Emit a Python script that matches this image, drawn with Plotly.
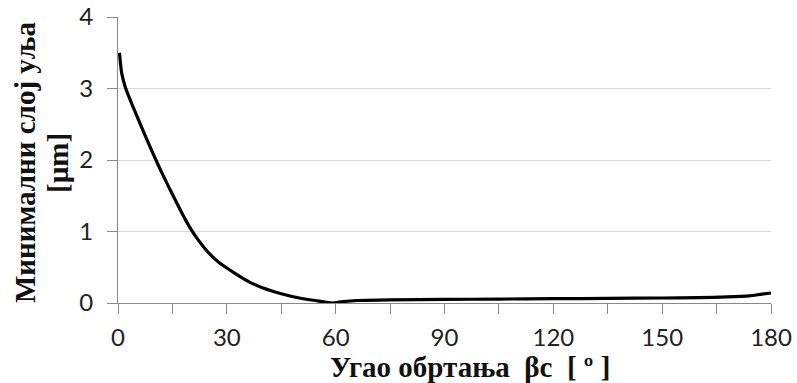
import plotly.graph_objects as go

angle = [0.4, 1, 2, 4, 6, 8, 10, 12, 14, 16, 18, 20, 22, 25, 28, 30, 33, 36, 40, 45, 50, 55, 59, 62, 66, 75, 90, 105, 120, 135, 150, 160, 168, 174, 177, 180]
film = [3.50, 3.22, 3.02, 2.76, 2.52, 2.28, 2.05, 1.83, 1.62, 1.42, 1.22, 1.04, 0.89, 0.70, 0.56, 0.49, 0.39, 0.30, 0.21, 0.13, 0.07, 0.03, 0.0, 0.02, 0.035, 0.045, 0.05, 0.055, 0.06, 0.065, 0.07, 0.075, 0.085, 0.10, 0.12, 0.14]

x_ticks = [0, 30, 60, 90, 120, 150, 180]
y_ticks = [0, 1, 2, 3, 4]

x_title = "<b>Угао обртања  βс  [ º ]</b>"
y_title_lines = ["<b>Минимални слој уља</b>", "<b>[µm]</b>"]

W, H = 797, 383
L, R, T, B = 118, 26, 17, 80
pw, ph = W - L - R, H - T - B

def px(x):
    return (x - L) / pw

def py(y):
    return (H - B - y) / ph

fig = go.Figure()
fig.add_trace(go.Scatter(x=angle, y=film, mode="lines",
                         line=dict(color="black", width=3.2, shape="spline", smoothing=0.6),
                         showlegend=False, cliponaxis=False))

tickfont = dict(family="Lato, Open Sans, sans-serif", size=24, color="#222")
titlefont = dict(family="Liberation Serif, DejaVu Serif, serif", size=29, color="#111", weight="bold")

annotations = [dict(text=x_title, xref="paper", yref="paper",
                    x=px(470), y=py(367), xanchor="center", yanchor="middle",
                    showarrow=False, font=titlefont, borderpad=0)]
for xc, t in zip([25, 58], y_title_lines):
    annotations.append(dict(text=t, xref="paper", yref="paper", x=px(xc), y=py(163),
                            xanchor="center", yanchor="middle", textangle=-90,
                            showarrow=False, font=titlefont, borderpad=0))

fig.update_layout(
    width=W, height=H,
    margin=dict(l=L, r=R, t=T, b=B),
    paper_bgcolor="white", plot_bgcolor="white",
    xaxis=dict(range=[0, 180], tickvals=x_ticks, ticks="outside", ticklen=10, tickcolor="#888",
               showline=True, linecolor="#888", linewidth=1, showgrid=False, zeroline=False,
               tickfont=tickfont, ticklabelstandoff=3, ticklabeloverflow="allow", automargin=False,
               minor=dict(dtick=15, tick0=0, ticks="outside", ticklen=10, tickcolor="#888", showgrid=False)),
    yaxis=dict(range=[0, 4], tickvals=y_ticks, ticks="outside", ticklen=10, tickcolor="#888",
               showline=True, linecolor="#888", linewidth=1, showgrid=True, gridcolor="#d9d9d9",
               gridwidth=1, zeroline=False, tickfont=tickfont, ticklabelstandoff=9,
               ticklabeloverflow="allow", automargin=False),
    annotations=annotations,
)

fig.write_html("out.html")
